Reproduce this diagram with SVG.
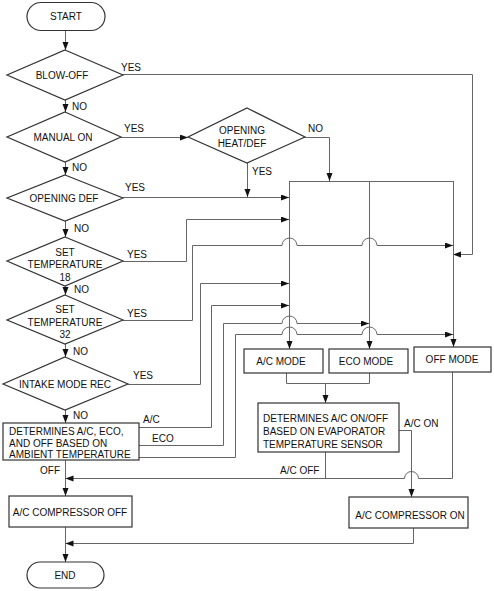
<svg xmlns="http://www.w3.org/2000/svg" width="494" height="591" viewBox="0 0 494 591">
<style>
text{font-family:"Liberation Sans",Arial,sans-serif;font-size:10px;fill:#111}
.c{text-anchor:middle}
.s{fill:#fff;stroke:#333;stroke-width:1.2}
.l{fill:none;stroke:#666;stroke-width:1}
.a{marker-end:url(#ar)}
</style>
<defs>
<marker id="ar" markerUnits="userSpaceOnUse" markerWidth="9" markerHeight="7" refX="8" refY="3" orient="auto">
<path d="M0,0 L8,3 L0,6 z" fill="#111"/>
</marker>
</defs>
<rect width="494" height="591" fill="#fff"/>
<g id="connectors">
<path class="l a" d="M65.5,30 V50"/>
<path class="l a" d="M65.5,100 V112"/>
<path class="l a" d="M65.5,162 V175"/>
<path class="l a" d="M65.5,221 V237"/>
<path class="l a" d="M65.5,286 V295"/>
<path class="l a" d="M65.5,344 V357"/>
<path class="l a" d="M65.5,410 V423"/>
<path class="l a" d="M65.5,460 V496"/>
<path class="l a" d="M65.5,527 V562"/>
<path class="l" d="M123,74.5 H472.5 V254.5 H461"/>
<path class="l a" d="M461,254.5 H453"/>
<path class="l a" d="M121,137.5 H188"/>
<path class="l a" d="M305,137.5 H329.5 V181"/>
<path class="l a" d="M247.5,163 V197"/>
<path class="l a" d="M123,197.5 H289"/>
<path class="l" d="M289.5,181.5 H453.5"/>
<path class="l a" d="M289.5,181 V349"/>
<path class="l a" d="M369.5,181 V349"/>
<path class="l a" d="M453.5,181 V347"/>
<path class="l a" d="M123,261.5 H186.5 V219.5 H289"/>
<path class="l a" d="M123,320.5 H192.5 V245.5 H282 a7.5,7.5 0 0 1 15,0 H362 a7.5,7.5 0 0 1 15,0 H453"/>
<path class="l a" d="M128,384.5 H200.5 V283.5 H289"/>
<path class="l a" d="M139,427.5 H211.5 V305.5 H289"/>
<path class="l a" d="M139,445.5 H223.5 V323.5 H282 a7.5,7.5 0 0 1 15,0 H369"/>
<path class="l a" d="M139,457.5 H235.5 V334.5 H282 a7.5,7.5 0 0 1 15,0 H362 a7.5,7.5 0 0 1 15,0 H453"/>
<path class="l" d="M286.5,373 V383.5 H369.5 V373"/>
<path class="l a" d="M325.5,383.5 V403"/>
<path class="l a" d="M399,430.5 H411.5 V497"/>
<path class="l a" d="M452.5,372 V478.5 H418.5 a7,7 0 0 0 -14,0 H65.5"/>
<path class="l" d="M325.5,452 V478.5"/>
<path class="l a" d="M413.5,528 V543.5 H65.5"/>
</g>
<g id="start"><rect class="s" x="27" y="2.5" width="78" height="28" rx="14"/><text class="c" x="66" y="20">START</text></g>
<g id="blowoff"><polygon class="s" points="65,50 123,75 65,100 7,75"/><text class="c" x="62" y="78.5">BLOW-OFF</text></g>
<g id="manualon"><polygon class="s" points="65,112 121,137 65,162 7,137"/><text class="c" x="63" y="140.5">MANUAL ON</text></g>
<g id="heatdef"><polygon class="s" points="247,108 305,137 247,163 188,137"/><text class="c" x="242" y="134">OPENING</text><text class="c" x="242" y="146.5">HEAT/DEF</text></g>
<g id="openingdef"><polygon class="s" points="65,175 123,198 65,221 7,198"/><text class="c" x="64" y="202">OPENING DEF</text></g>
<g id="set18"><polygon class="s" points="65,237 123,261 65,286 7,261"/><text class="c" x="65" y="256">SET</text><text class="c" x="65" y="268">TEMPERATURE</text><text class="c" x="65" y="281">18</text></g>
<g id="set32"><polygon class="s" points="65,295 123,320 65,344 7,320"/><text class="c" x="65" y="313">SET</text><text class="c" x="65" y="325.5">TEMPERATURE</text><text class="c" x="65" y="338">32</text></g>
<g id="intake"><polygon class="s" points="65,357 128,384 65,410 3,384"/><text class="c" x="65" y="387.5">INTAKE MODE REC</text></g>
<g id="ambient"><rect class="s" x="3" y="423" width="136" height="37"/><text x="9" y="434.5">DETERMINES A/C, ECO,</text><text x="9" y="446.5">AND OFF BASED ON</text><text x="9" y="458">AMBIENT TEMPERATURE</text></g>
<g id="compoff"><rect class="s" x="9" y="496" width="123" height="31"/><text class="c" x="70" y="516">A/C COMPRESSOR OFF</text></g>
<g id="end"><rect class="s" x="27" y="562" width="77" height="26" rx="13"/><text class="c" x="65" y="579">END</text></g>
<g id="acmode"><rect class="s" x="244" y="349" width="79" height="24"/><text class="c" x="281" y="364.5">A/C MODE</text></g>
<g id="ecomode"><rect class="s" x="329" y="349" width="79" height="24"/><text class="c" x="366" y="364.5">ECO MODE</text></g>
<g id="offmode"><rect class="s" x="414" y="347" width="77" height="25"/><text class="c" x="452" y="363">OFF MODE</text></g>
<g id="evap"><rect class="s" x="258" y="403" width="141" height="49"/><text x="263" y="421.5">DETERMINES A/C ON/OFF</text><text x="263" y="434.5">BASED ON EVAPORATOR</text><text x="263" y="447.5">TEMPERATURE SENSOR</text></g>
<g id="compon"><rect class="s" x="349" y="497" width="119" height="31"/><text class="c" x="410" y="518.5">A/C COMPRESSOR ON</text></g>
<g id="labels">
<text x="121" y="71">YES</text>
<text x="72" y="110">NO</text>
<text x="124" y="132">YES</text>
<text x="308" y="132">NO</text>
<text x="72" y="171">NO</text>
<text x="252" y="175">YES</text>
<text x="125" y="191">YES</text>
<text x="74" y="232">NO</text>
<text x="127" y="258">YES</text>
<text x="74" y="293">NO</text>
<text x="127" y="317">YES</text>
<text x="73" y="355">NO</text>
<text x="133" y="379">YES</text>
<text x="73" y="419">NO</text>
<text x="143" y="423">A/C</text>
<text x="152" y="442">ECO</text>
<text x="40" y="474">OFF</text>
<text x="404" y="427">A/C ON</text>
<text x="280" y="474">A/C OFF</text>
</g>
</svg>
